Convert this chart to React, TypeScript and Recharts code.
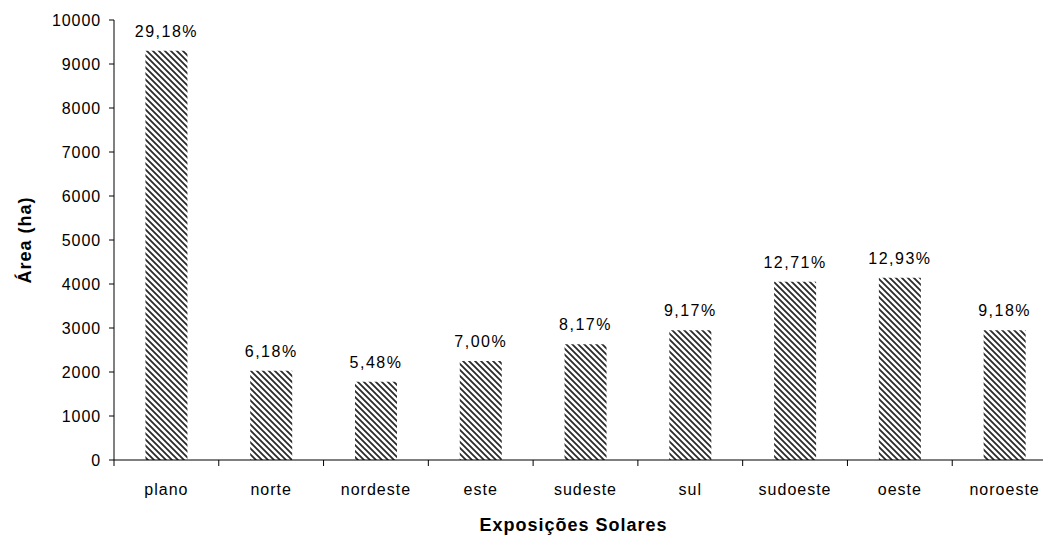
import { BarChart, Bar, XAxis, YAxis, LabelList } from 'recharts'

const categories = ['plano', 'norte', 'nordeste', 'este', 'sudeste', 'sul', 'sudoeste', 'oeste', 'noroeste']
const areas = [9300, 2030, 1780, 2250, 2630, 2950, 4050, 4140, 2950]
const shares = ['29,18%', '6,18%', '5,48%', '7,00%', '8,17%', '9,17%', '12,71%', '12,93%', '9,18%']
const yTicks = [0, 1000, 2000, 3000, 4000, 5000, 6000, 7000, 8000, 9000, 10000]

const data = categories.map((name, i) => ({ name, area: areas[i], share: shares[i] }))

const CHART_W = 1057
const CHART_H = 540
const Y_AXIS_W = 114
const STEP = (CHART_W - Y_AXIS_W) / categories.length
const FONT = 'Arial, "Liberation Sans", sans-serif'

// Excel-style category axis: tick marks sit between categories, not under them
const CategoryTick = (props: any) => {
  const { x, y, payload } = props
  const edge = x - STEP / 2
  return (
    <g>
      <line x1={edge} x2={edge} y1={y - 8} y2={y - 2} stroke="#000" />
      <text x={x} y={y + 27} textAnchor="middle" fontSize={16} letterSpacing={1} fill="#000" fontFamily={FONT}>
        {payload.value}
      </text>
    </g>
  )
}

export default function App() {
  return (
    <div style={{ position: 'absolute', left: 0, top: 0, width: 1043, height: 540, overflow: 'hidden', background: '#fff' }}>
      <BarChart
        width={CHART_W}
        height={CHART_H}
        data={data}
        margin={{ top: 20, right: 0, bottom: 0, left: 0 }}
        barCategoryGap="30%"
      >
        <defs>
          <pattern id="hatch" patternUnits="userSpaceOnUse" width={6} height={6}>
            <rect width={6} height={6} fill="#fff" />
            <path d="M-1,-1 L7,7 M-1,5 L1,7 M5,-1 L7,1" stroke="#2a2a2a" strokeWidth={1.8} />
          </pattern>
        </defs>
        <XAxis
          dataKey="name"
          height={80}
          interval={0}
          tickSize={6}
          tickMargin={2}
          tickLine={{ stroke: 'none' }}
          axisLine={{ stroke: '#000' }}
          tick={<CategoryTick />}
          label={{
            value: 'Exposições Solares',
            position: 'center',
            dx: -12,
            dy: 25,
            fontSize: 18,
            fontWeight: 'bold',
            letterSpacing: 1,
            fill: '#000',
            fontFamily: FONT,
          }}
        />
        <YAxis
          width={Y_AXIS_W}
          domain={[0, 10000]}
          ticks={yTicks}
          interval={0}
          tickSize={5}
          tickMargin={8}
          axisLine={{ stroke: '#000' }}
          tickLine={{ stroke: '#000' }}
          tick={{ fontSize: 16, fill: '#000', fontFamily: FONT, letterSpacing: 0.9 }}
          label={{
            value: 'Área (ha)',
            angle: -90,
            position: 'center',
            dx: -32,
            fontSize: 18,
            fontWeight: 'bold',
            letterSpacing: 1,
            fill: '#000',
            fontFamily: FONT,
          }}
        />
        <Bar dataKey="area" fill="url(#hatch)" isAnimationActive={false}>
          <LabelList
            dataKey="share"
            position="top"
            offset={14}
            fontSize={16}
            letterSpacing={1.5}
            fill="#000"
            fontFamily={FONT}
          />
        </Bar>
      </BarChart>
    </div>
  )
}
